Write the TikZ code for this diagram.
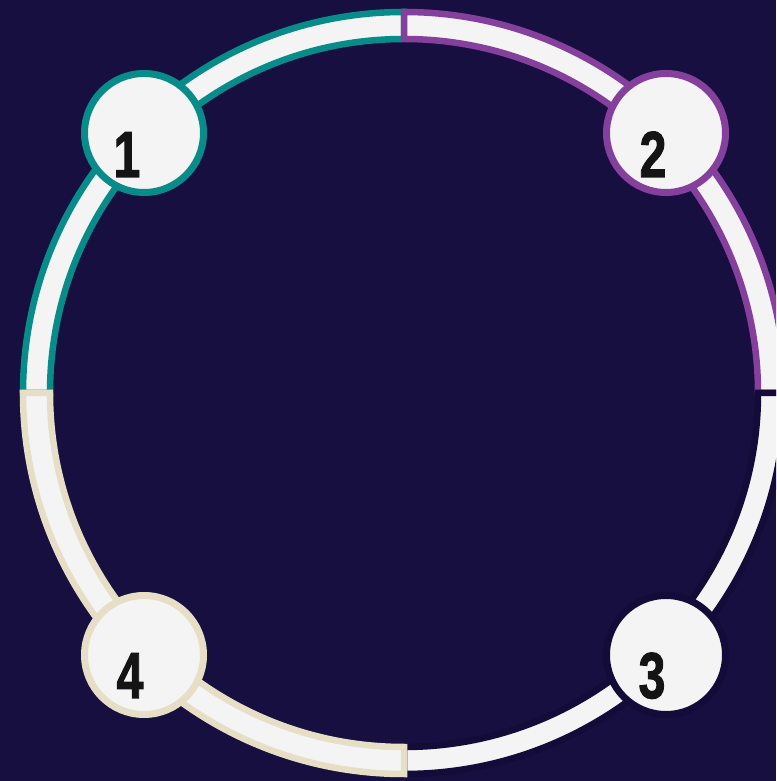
\documentclass[tikz,border=0pt]{standalone}
\usepackage{fontspec}
\newfontfamily\numfont[FakeBold=1.8]{Liberation Sans}
\definecolor{bgnavy}{HTML}{170F40}
\definecolor{segteal}{HTML}{078C8A}
\definecolor{segpurple}{HTML}{85409D}
\definecolor{segbeige}{HTML}{E6DFC6}
\definecolor{segnavy}{HTML}{130B38}
\definecolor{ringwhite}{HTML}{F4F4F4}
\definecolor{digit}{HTML}{141414}
\begin{document}
\begin{tikzpicture}[x=1pt,y=1pt,
  seg/.style={fill=ringwhite, line width=6.5pt, line join=miter},
  badge/.style={circle, fill=ringwhite, line width=7pt, minimum size=119pt, inner sep=0pt},
  num/.style={anchor=base, inner sep=0pt, text=digit, font=\numfont\bfseries\fontsize{65}{65}\selectfont}
]
\useasboundingbox (0,0) rectangle (776,781);
\fill[bgnavy] (0,0) rectangle (776,781);
\clip (0,0) rectangle (776,781);
\coordinate (ctr) at (404,388);
\begin{scope}[shift={(ctr)}]
  % top-left (teal)
  \draw[seg, draw=segteal] (90:381pt) arc[start angle=90, end angle=180, radius=381pt]
     -- (180:354pt) arc[start angle=180, end angle=90, radius=354pt] -- cycle;
  % top-right (purple)
  \draw[seg, draw=segpurple] (0:381pt) arc[start angle=0, end angle=90, radius=381pt]
     -- (90:354pt) arc[start angle=90, end angle=0, radius=354pt] -- cycle;
  % bottom-right (navy)
  \draw[seg, draw=segnavy] (270:381pt) arc[start angle=270, end angle=360, radius=381pt]
     -- (0:354pt) arc[start angle=360, end angle=270, radius=354pt] -- cycle;
  % bottom-left (beige)
  \draw[seg, draw=segbeige] (180:381pt) arc[start angle=180, end angle=270, radius=381pt]
     -- (270:354pt) arc[start angle=270, end angle=180, radius=354pt] -- cycle;
\end{scope}
\node[badge, draw=segteal]   (b1) at (144,648) {};
\node[badge, draw=segpurple] (b2) at (666,648) {};
\node[badge, draw=segnavy]   (b3) at (666,126) {};
\node[badge, draw=segbeige]  (b4) at (144,126) {};
\node[num] (t1) at (127,604) {\scalebox{0.74}[1]{1}};
\node[num] (t2) at (653,604) {\scalebox{0.74}[1]{2}};
\node[num] (t3) at (652,83) {\scalebox{0.74}[1]{3}};
\node[num] (t4) at (130,83) {\scalebox{0.74}[1]{4}};
\end{tikzpicture}
\end{document}
